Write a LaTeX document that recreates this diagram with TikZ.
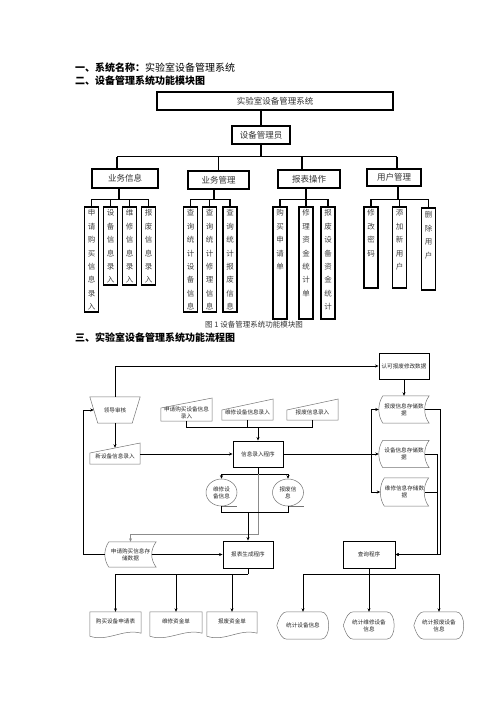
\documentclass[tikz,border=0pt]{standalone}
\usepackage{fontspec}
\setmainfont{Noto Sans CJK SC}
\usetikzlibrary{arrows.meta,calc,shapes.geometric}
\newcommand{\flowfont}{\fontsize{5.6}{7}\selectfont}
\newcommand{\storeshape}[1]{%
  \draw[shp] ([xshift=4pt]#1.north west) -- (#1.north east)
    .. controls ([xshift=-6pt,yshift=-8pt]#1.north east) and ([xshift=-6pt,yshift=8pt]#1.south east) .. (#1.south east)
    -- ([xshift=4pt]#1.south west)
    .. controls ([xshift=-1.3pt,yshift=8pt]#1.south west) and ([xshift=-1.3pt,yshift=-8pt]#1.north west) .. ([xshift=4pt]#1.north west) -- cycle;}
\newcommand{\docshape}[1]{%
  \draw[shp] (#1.north west) -- (#1.north east) -- ([yshift=-3pt]#1.south east)
    .. controls ([xshift=-18pt,yshift=2pt]#1.south east) and ([xshift=18pt,yshift=-12pt]#1.south west) .. ([yshift=-6pt]#1.south west) -- cycle;}
\newcommand{\dispshape}[1]{%
  \draw[shp] (#1.west) .. controls ([xshift=3pt,yshift=-4pt]#1.north west) and ([xshift=6pt]#1.north west) .. ([xshift=10pt]#1.north west)
    -- ([xshift=-8pt]#1.north east)
    .. controls ([xshift=2pt]#1.north east) and ([xshift=2pt]#1.south east) .. ([xshift=-8pt]#1.south east)
    -- ([xshift=10pt]#1.south west)
    .. controls ([xshift=6pt]#1.south west) and ([xshift=3pt,yshift=4pt]#1.south west) .. (#1.west) -- cycle;}
\begin{document}
\begin{tikzpicture}[x=1pt,y=-1pt,
  lbox/.style={draw=black,line width=1.1pt,inner sep=0pt,font=\fontsize{8.5}{10}\selectfont,text=black!80},
  lline/.style={line width=1.1pt},
  leaf/.style={draw=black,line width=1.1pt,inner sep=0pt,minimum width=14pt},
  leaftxt/.style={inner sep=0pt,align=center,font=\fontsize{7.5}{13.4}\selectfont,text=black!75,anchor=north},
  rbox/.style={draw=black,line width=0.9pt,inner sep=0pt,minimum width=50pt,minimum height=26pt,font=\flowfont,text=black!85},
  shp/.style={draw=black!55,line width=0.5pt},
  ftxt/.style={inner sep=0pt,align=center,font=\flowfont,text=black!85},
  con/.style={line width=0.8pt},
  arr/.style={line width=0.8pt,-{Stealth[length=3.5pt,width=3pt]}},
  garr/.style={draw=black!45,line width=0.7pt,-{Stealth[length=3.5pt,width=3pt]}},
  head/.style={anchor=west,inner sep=0pt,font=\fontsize{10}{12}\selectfont}
]
\useasboundingbox (0,0) rectangle (496,702);

% headings
\node[head] (h1) at (75,67.5) {\textbf{一、系统名称：}实验室设备管理系统};
\node[head] (h2) at (75,80.5) {\textbf{二、设备管理系统功能模块图}};
\node[inner sep=0pt,font=\fontsize{7.5}{9}\selectfont,text=black!80] (cap) at (254,325) {图 1 设备管理系统功能模块图};
\node[head] (h3) at (75,338) {\textbf{三、实验室设备管理系统功能流程图}};

% ---------- chart 1 ----------
\node[lbox,minimum width=236pt,minimum height=18pt] (sys) at (275,101) {实验室设备管理系统};
\node[lbox,minimum width=58pt,minimum height=18pt] (adm) at (261,135) {设备管理员};
\node[lbox,minimum width=66pt,minimum height=19pt] (bi) at (125,178.5) {业务信息};
\node[lbox,minimum width=61pt,minimum height=18pt] (bm) at (218.5,180) {业务管理};
\node[lbox,minimum width=62pt,minimum height=18pt] (br) at (309,179) {报表操作};
\node[lbox,minimum width=54pt,minimum height=17pt] (bu) at (394,177.5) {用户管理};

\draw[lline] (adm.north |- sys.south) -- (adm.north);
\draw[lline] (adm.south) -- ++(0,12) coordinate (k0);
\draw[lline] ([xshift=-8pt]bi.north |- k0) -- ([xshift=3pt]bu.north |- k0);
\draw[lline] ([xshift=-8pt]bi.north |- k0) -- ([xshift=-8pt]bi.north);
\draw[lline] (bm.north |- k0) -- (bm.north);
\draw[lline] ([xshift=-7pt]br.north |- k0) -- ([xshift=-7pt]br.north);
\draw[lline] ([xshift=3pt]bu.north |- k0) -- ([xshift=3pt]bu.north);

% leaves
\node[leaf,minimum height=105pt] (a1) at (91.5,259.5) {};
\node[leaf,minimum height=78pt] (a2) at (110.5,246) {};
\node[leaf,minimum height=78pt] (a3) at (129.5,246) {};
\node[leaf,minimum height=78pt] (a4) at (148.5,246) {};
\node[leaf,minimum height=105pt] (b1) at (190.5,259.5) {};
\node[leaf,minimum height=105pt] (b2) at (209.5,259.5) {};
\node[leaf,minimum height=105pt] (b3) at (230,259.5) {};
\node[leaf,minimum height=112pt] (c1) at (280,263) {};
\node[leaf,minimum height=112pt] (c2) at (306,263) {};
\node[leaf,minimum height=112pt] (c3) at (328,263) {};
\node[leaf,minimum height=81pt] (d1) at (371,247.5) {};
\node[leaf,minimum height=81pt] (d2) at (399.5,247.5) {};
\node[leaf,minimum height=82pt] (d3) at (428.5,249) {};

\node[leaftxt] (a1t) at ([yshift=-3pt]a1.north) {申\\请\\购\\买\\信\\息\\录\\入};
\node[leaftxt] (a2t) at ([yshift=-3pt]a2.north) {设\\备\\信\\息\\录\\入};
\node[leaftxt] (a3t) at ([yshift=-3pt]a3.north) {维\\修\\信\\息\\录\\入};
\node[leaftxt] (a4t) at ([yshift=-3pt]a4.north) {报\\废\\信\\息\\录\\入};
\node[leaftxt] (b1t) at ([yshift=-3pt]b1.north) {查\\询\\统\\计\\设\\备\\信\\息};
\node[leaftxt] (b2t) at ([yshift=-3pt]b2.north) {查\\询\\统\\计\\修\\理\\信\\息};
\node[leaftxt] (b3t) at ([yshift=-3pt]b3.north) {查\\询\\统\\计\\报\\废\\信\\息};
\node[leaftxt] (c1t) at ([yshift=-3pt]c1.north) {购\\买\\申\\请\\单};
\node[leaftxt] (c2t) at ([yshift=-3pt]c2.north) {修\\理\\资\\金\\统\\计\\单};
\node[leaftxt] (c3t) at ([yshift=-3pt]c3.north) {报\\废\\设\\备\\资\\金\\统\\计};
\node[leaftxt] (d1t) at ([yshift=-3pt]d1.north) {修\\改\\密\\码};
\node[leaftxt] (d2t) at ([yshift=-3pt]d2.north) {添\\加\\新\\用\\户};
\node[leaftxt] (d3t) at ([yshift=-4pt]d3.north) {删\\除\\用\\户};

\draw[lline] ([xshift=-6pt]bi.south) -- ++(0,10.5) coordinate (ka);
\draw[lline] (a1.north) |- (a4.north |- ka) -- (a4.north);
\draw[lline] (a2.north |- ka) -- (a2.north);
\draw[lline] (a3.north |- ka) -- (a3.north);
\draw[lline] ([xshift=-4.5pt]bm.south) -- ++(0,10) coordinate (kb);
\draw[lline] (b1.north) |- (b3.north |- kb) -- (b3.north);
\draw[lline] (b2.north |- kb) -- (b2.north);
\draw[lline] ([xshift=-3pt]br.south) -- ++(0,11) coordinate (kc);
\draw[lline] (c1.north) |- (c3.north |- kc) -- (c3.north);
\draw[lline] (c2.north |- kc) -- (c2.north);
\draw[lline] ([xshift=4pt]bu.south) -- ++(0,13) coordinate (kd);
\draw[lline] (d1.north) |- (d3.north |- kd) -- (d3.north);
\draw[lline] (d2.north |- kd) -- (d2.north);

% ---------- flowchart ----------
\node[rbox] (rk) at (404,366) {认可报废修改数据};
\node[ftxt,minimum width=50pt,minimum height=26pt] (ld) at (115,410) {领导审核};
\draw[shp] (ld.north west) -- (ld.north east) -- ([xshift=-8pt]ld.south east) -- ([xshift=8pt]ld.south west) -- cycle;

\node[ftxt,minimum width=50pt,minimum height=16pt] (xs) at (115,456) {新设备信息录入};
\draw[shp] (xs.south west) -- (xs.south east) -- ([yshift=13pt]xs.east) -- ([yshift=3pt]xs.west) -- cycle;

\node[ftxt,minimum width=51pt,minimum height=17pt] (sq) at (186.5,412.5) {申请购买设备信息\\录入};
\draw[shp] (sq.south west) -- (sq.south east) -- ([yshift=14.5pt]sq.east) -- ([yshift=4.5pt]sq.west) -- cycle;
\node[ftxt,minimum width=51pt,minimum height=16pt] (wx) at (247.5,412) {维修设备信息录入};
\draw[shp] (wx.south west) -- (wx.south east) -- ([yshift=13pt]wx.east) -- ([yshift=2pt]wx.west) -- cycle;
\node[ftxt,minimum width=51pt,minimum height=16pt] (bf) at (312.5,412) {报废信息录入};
\draw[shp] (bf.south west) -- (bf.south east) -- ([yshift=13pt]bf.east) -- ([yshift=2pt]bf.west) -- cycle;

\node[rbox] (xr) at (258,454) {信息录入程序};

\node[ftxt,minimum width=50pt,minimum height=27pt] (sd1) at (404,409.5) {报废信息存储数\\据};
\storeshape{sd1}
\node[ftxt,minimum width=50pt,minimum height=27pt] (sd2) at (404,454) {设备信息存储数\\据};
\storeshape{sd2}
\node[ftxt,minimum width=48pt,minimum height=28pt] (sd3) at (404.5,492) {维修信息存储数\\据};
\storeshape{sd3}

\node[ellipse,draw=black!55,line width=0.5pt,minimum width=31pt,minimum height=27pt,ftxt] (e1) at (221.5,492.5) {维修设\\备信息};
\draw[shp] (e1.south) -- (e1.south -| e1.east);
\node[ellipse,draw=black!55,line width=0.5pt,minimum width=31pt,minimum height=27pt,ftxt] (e2) at (288,492.5) {报废信\\息};
\draw[shp] (e2.south) -- (e2.south -| e2.east);

\node[ftxt,minimum width=51pt,minimum height=25pt] (ps) at (130.5,554.5) {申请购买信息存\\储数据};
\storeshape{ps}
\node[rbox,minimum height=27pt] (bg) at (248,554.5) {报表生成程序};
\node[rbox,minimum width=52pt,minimum height=27pt] (cx) at (369,554.5) {查询程序};

\node[ftxt,minimum width=51pt,minimum height=18pt] (o1) at (115.5,621) {购买设备申请表};
\docshape{o1}
\node[ftxt,minimum width=52pt,minimum height=18pt] (o2) at (176,621) {维修资金单};
\docshape{o2}
\node[ftxt,minimum width=50pt,minimum height=18pt] (o3) at (232,621) {报废资金单};
\docshape{o3}

\node[ftxt,minimum width=52pt,minimum height=27pt] (p1) at (303,625.5) {统计设备信息};
\dispshape{p1}
\node[ftxt,minimum width=51pt,minimum height=27pt] (p2) at (369,625.5) {统计维修设备\\信息};
\dispshape{p2}
\node[ftxt,minimum width=50pt,minimum height=27pt] (p3) at (439,625.5) {统计报废设备\\信息};
\dispshape{p3}

% connectors
\draw[arr] (ld.north) |- (rk.west);
\draw[arr] (rk.south) -- (sd1.north);
\draw[arr] (ld.south) -- (xs.north);
\draw[arr] (ps.west) -- ++(-21,0) |- ([xshift=4pt]ld.west);
\draw[arr] (xs.east |- xr.west) -- (xr.west);
\draw[con] (sq.south) -- ++(0,6) coordinate (t1) -| (bf.south);
\draw[con] (wx.south) -- (wx.south |- t1);
\draw[arr] (xr.north |- t1) -- (xr.north);
\draw[arr] (xr.east) -- (sd2.west);
\coordinate (j1) at ([xshift=-7pt]sd2.west);
\draw[arr] (j1) |- (sd1.west);
\draw[arr] (j1) |- (sd3.west);
\draw[arr] ([xshift=-4pt]sd1.east) -- ++(15,0) |- (cx.east);
\draw[arr] ([xshift=-4pt]sd2.east) -- ++(12,0) |- (cx.east);
\draw[con] ([xshift=-4pt]sd3.east) -- ++(13,0);

\draw[con] (xr.south) -- ++(0,7) coordinate (j2);
\draw[arr] (j2) -| (e1.north);
\draw[arr] (j2) -| (e2.north);
\draw[garr] (j2) -- ++(0,60) -| (ps.north);
\coordinate (m1) at (bg.north |- 0,512);
\draw[con] (e1.south) |- (m1);
\draw[con] (e2.south) |- (m1);
\draw[arr] (m1) -- (bg.north);
\draw[arr] ([xshift=-4pt]ps.east) -- (bg.west);

\draw[con] (bg.south) -- ++(0,6) coordinate (b0);
\draw[arr] (b0) -| (o1.north);
\draw[arr] (b0) -| (o2.north);
\draw[arr] (b0) -| (o3.north);

\draw[con] (cx.south) -- ++(0,6) coordinate (q0);
\draw[arr] (q0) -| (p1.north);
\draw[arr] (q0) -- (p2.north);
\draw[arr] (q0) -| (p3.north);
\end{tikzpicture}
\end{document}
